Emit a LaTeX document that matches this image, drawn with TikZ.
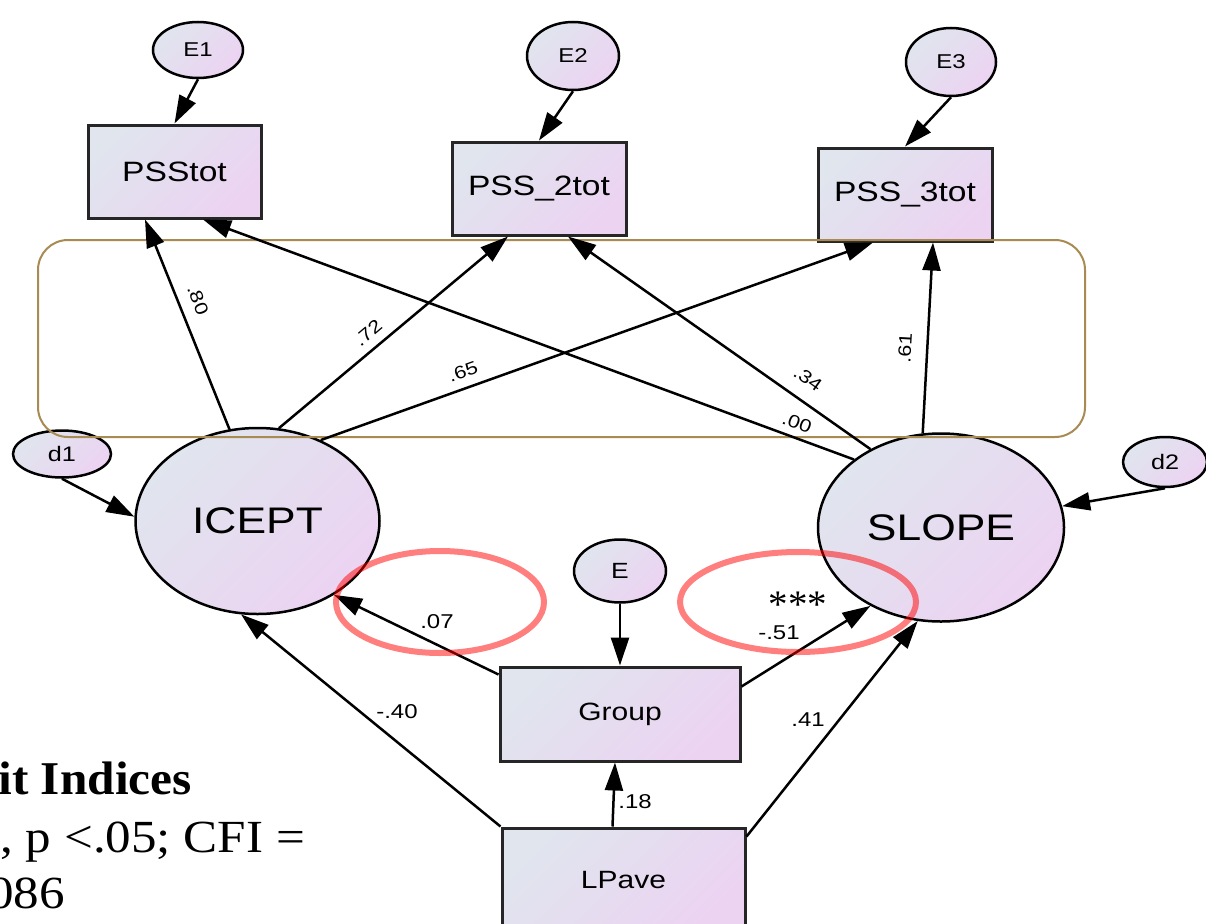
\documentclass[tikz,border=0pt]{standalone}
\usepackage{fontspec}
\setmainfont{Liberation Serif}
\newfontfamily\arialf{Liberation Sans}
\usepackage{graphicx}
\usetikzlibrary{arrows.meta,calc,shapes.geometric}
\definecolor{gA}{HTML}{E0E5EE}
\definecolor{gB}{HTML}{ECD3F2}
\definecolor{goldline}{HTML}{A88B52}
\newcommand\sx[2]{{\fontsize{#1}{#1}\selectfont\scalebox{1.2}[1]{#2}}}
\newcommand\fx[2]{\scalebox{#1}[1]{#2}}
\tikzset{
  shadefill/.style={top color=gA, bottom color=gB, shading angle=45},
  latent/.style={ellipse, draw=black, line width=2.5pt, shadefill, inner sep=0pt, font=\arialf},
  obsbox/.style={rectangle, draw=black!85, line width=3pt, shadefill, inner sep=0pt, font=\arialf},
  conn/.style={line width=2.5pt, -{Triangle[length=28pt,width=18pt]}},
  coef/.style={font=\arialf, inner sep=1pt},
  hring/.style={ellipse, draw=red, draw opacity=0.5, line width=6pt, inner sep=0pt},
  framebox/.style={draw=goldline, line width=2pt, rounded corners=30pt},
}
\begin{document}
\begin{tikzpicture}[x=1pt,y=-1pt]
\useasboundingbox (0,0) rectangle (1206,923);
\clip (0,0) rectangle (1206,923);

% error terms
\node[latent, minimum width=90, minimum height=56] (e1) at (198,50) {\sx{20}{E1}};
\node[latent, minimum width=92, minimum height=68] (e2) at (573,56) {\sx{20}{E2}};
\node[latent, minimum width=90, minimum height=68] (e3) at (951,62) {\sx{20}{E3}};

% observed boxes
\node[obsbox, minimum width=173, minimum height=93] (psstot) at (174.5,171.5) {\sx{28}{PSStot}};
\node[obsbox, minimum width=174, minimum height=93] (pss2) at (539,188.5) {\sx{28}{PSS\_2tot}};
\node[obsbox, minimum width=174, minimum height=93] (pss3) at (905,194.5) {\sx{28}{PSS\_3tot}};

% latent growth factors
\node[latent, minimum width=244, minimum height=186] (icept) at (257.5,521) {\sx{37}{ICEPT}};
\node[latent, minimum width=246, minimum height=188] (slope) at (941,527.5) {\sx{37}{SLOPE}};
\node[latent, minimum width=98, minimum height=47] (d1) at (62,454) {\sx{21}{d1}};
\node[latent, minimum width=84, minimum height=50] (d2) at (1165,462) {\sx{21}{d2}};

% predictors
\node[latent, minimum width=92, minimum height=63] (err) at (620,571) {\sx{22}{E}};
\node[obsbox, minimum width=240, minimum height=94] (group) at (620,714) {\sx{25}{Group}};
\node[obsbox, minimum width=243, minimum height=104] (lpave) at (623.5,880) {\sx{25}{LPave}};

% frame
\draw[framebox] (38,240) rectangle (1085,437);

% connectors
\draw[conn] (e1.south) -- (psstot.north);
\draw[conn] (e2.south) -- (pss2.north);
\draw[conn] (e3.south) -- (pss3.north);

\draw[conn] (icept.107.6) -- ($(psstot.south)+(-29.5,0)$);
\draw[conn] (icept.77.4) -- ($(pss2.south)+(-31,0)$);
\draw[conn] (icept.52.5) -- ($(pss3.south)+(-32,0)$);
\draw[conn] (slope.142.9) -- ($(psstot.south)+(28.5,0)$);
\draw[conn] (slope.132.4) -- ($(pss2.south)+(29,0)$);
\draw[conn] (slope.101.4) -- ($(pss3.south)+(28,0)$);

\draw[conn] (d1.south) -- (icept.178);
\draw[conn] (d2.south) -- (slope.10.8);

\draw[conn] (err.south) -- (group.north);
\draw[conn] ($(lpave.north)+(-11,0)$) -- ($(group.south)+(-5,0)$);
\draw[conn] ($(group.north west)+(0,9)$) -- (icept.-44);
\draw[conn] ($(group.north east)+(0,21)$) -- (slope.-132.3);
\draw[conn] (lpave.north west) -- (icept.-100.5);
\draw[conn] ($(lpave.north east)+(0,10)$) -- (slope.-104);

% coefficients
\node[coef, rotate=-69] (c80) at (198,300) {\sx{18}{.80}};
\node[coef, rotate=40.1] (c72) at (368,333) {\sx{18}{.72}};
\node[coef, rotate=19.6] (c65) at (463,372) {\sx{18}{.65}};
\node[coef, rotate=-35.3] (c34) at (808,379) {\sx{18}{.34}};
\node[coef, rotate=-20.5] (c00) at (797,423) {\sx{18}{.00}};
\node[coef, rotate=86.7] (c61) at (905,348) {\sx{18}{.61}};
\node[coef] (c07) at (437,622) {\sx{20}{.07}};
\node[coef] (c51) at (779,633) {\sx{20}{-.51}};
\node[coef] (c40) at (397,712) {\sx{20}{-.40}};
\node[coef] (c41) at (808,720) {\sx{20}{.41}};
\node[coef] (c18) at (635,802) {\sx{20}{.18}};

% highlight rings
\node[hring, minimum width=208, minimum height=102] (ring1) at (440,602) {};
\node[hring, minimum width=236, minimum height=100] (ring2) at (798,602) {};
\node[anchor=base, inner sep=0pt, font=\fontsize{39}{39}\selectfont] (stars) at (798,617) {***};

% fit indices text (cut by the page edge)
\node[anchor=base east, inner sep=0pt, font=\bfseries\fontsize{47}{47}\selectfont] (fit1) at (192,794) {\fx{1.05}{Fit Indices}};
\node[anchor=base east, inner sep=0pt, font=\fontsize{46}{46}\selectfont] (fit2) at (305,852) {\fx{1.11}{, p <.05; CFI =}};
\node[anchor=base east, inner sep=0pt, font=\fontsize{46}{46}\selectfont] (fit3) at (65,908) {\fx{1.11}{086}};
\end{tikzpicture}
\end{document}
